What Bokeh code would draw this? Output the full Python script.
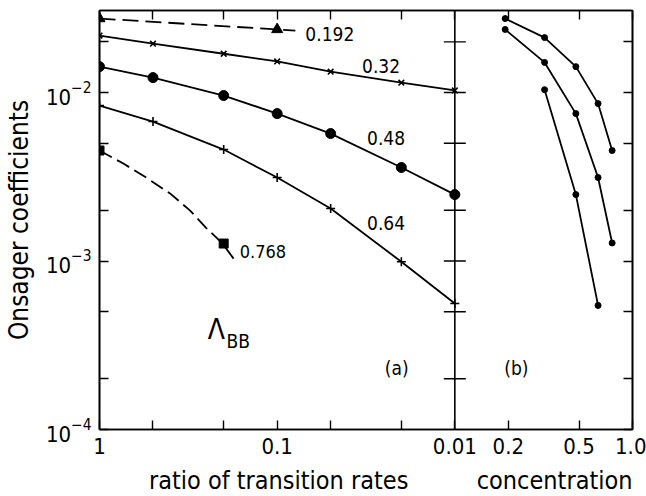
import math
from bokeh.plotting import figure
from bokeh.layouts import column
from bokeh.models import (Range1d, LogScale, FixedTicker, LogAxis, Span, Label,
                          LogTickFormatter)
from bokeh.embed import file_html
from bokeh.resources import INLINE
from bokeh.core.properties import value

# ---------------- data ----------------
# panel (a): Onsager coefficient vs ratio of transition rates
ratio = [1, 0.5, 0.2, 0.1, 0.05, 0.02, 0.01]
lam_032 = [0.0218, 0.0195, 0.0170, 0.0153, 0.0133, 0.01145, 0.0103]
lam_048 = [0.01425, 0.01227, 0.0096, 0.0075, 0.00571, 0.00359, 0.00248]
lam_064 = [0.00837, 0.00673, 0.00459, 0.00313, 0.00205, 0.00099, 0.00056]
ratio_0192 = [1, 0.1]
lam_0192 = [0.0275, 0.0237]
trace_0192_r = [1, 0.1, 0.079]
trace_0192_v = [0.0275, 0.0237, 0.0233]
ratio_0768 = [1, 0.2]
lam_0768 = [0.00453, 0.00127]
trace_0768_r = [1, 0.734, 0.546, 0.401, 0.310, 0.252, 0.203, 0.172]
trace_0768_v = [0.00453, 0.00379, 0.00313, 0.00252, 0.00200, 0.00158, 0.00127, 0.00100]

# panel (b): Onsager coefficient vs concentration
conc = [0.192, 0.32, 0.48, 0.64, 0.768]
b_ratio_1 = [0.0275, 0.0212, 0.01425, 0.0086, 0.00453]
b_ratio_01 = [0.0237, 0.0151, 0.0075, 0.00313, 0.00128]
conc_3 = [0.32, 0.48, 0.64]
b_ratio_001 = [0.0104, 0.00248, 0.000545]

series_labels = ["0.192", "0.32", "0.48", "0.64", "0.768"]

# ticks
a_tick_major = [1, 0.1, 0.01]
a_tick_labels = ["1", "0.1", "0.01"]
a_tick_minor = [0.5, 0.2, 0.05, 0.02]
b_tick_major = [0.2, 0.5, 1.0]
b_tick_labels = ["0.2", "0.5", "1.0"]
y_tick_major = [1e-4, 1e-3, 1e-2]
y_tick_minor = [2e-4, 5e-4, 2e-3, 5e-3, 2e-2]

# ---------------- ranges ----------------
A_START, A_END = 1.0, 0.001      # main (ratio) axis, reversed
C_START, C_END = 0.001, 1.0      # concentration axis sharing the frame
Y_START, Y_END = 1e-4, 0.0307

def conc_to_main(c):
    return A_START * C_START / c

FONT = "DejaVu Sans Condensed"
BLACK = "black"

x_range = Range1d(A_START, A_END)
conc_range = Range1d(C_START, C_END)

p = figure(width=646, height=466, x_axis_type="log", y_axis_type="log",
           x_range=x_range, y_range=Range1d(Y_START, Y_END),
           output_backend="svg", toolbar_location=None,
           min_border_left=96, min_border_right=14, min_border_top=10,
           min_border_bottom=37)
p.extra_x_ranges = {"conc": conc_range}
p.extra_x_scales = {"conc": LogScale()}
p.background_fill_color = "white"
p.border_fill_color = "white"
p.xgrid.grid_line_color = None
p.ygrid.grid_line_color = None
p.outline_line_color = BLACK
p.outline_line_width = 1.6

x_major = a_tick_major + [conc_to_main(c) for c in b_tick_major]
x_labels = a_tick_labels + b_tick_labels


def style_axis(ax):
    ax.axis_line_color = BLACK
    ax.axis_line_width = 1.6
    ax.major_tick_in = 9
    ax.major_tick_out = 0
    ax.minor_tick_in = 9
    ax.minor_tick_out = 0
    ax.major_tick_line_color = BLACK
    ax.minor_tick_line_color = BLACK
    ax.major_tick_line_width = 1.4
    ax.minor_tick_line_width = 1.4
    ax.major_label_text_font = FONT
    ax.major_label_text_color = BLACK
    ax.major_label_text_font_size = "22px"
    ax.axis_label_text_font = FONT
    ax.axis_label_text_font_style = "normal"
    ax.axis_label_text_color = BLACK


xb = p.xaxis[0]
xb.ticker = FixedTicker(ticks=x_major, minor_ticks=a_tick_minor)
xb.major_label_overrides = dict(zip(x_major, x_labels))
xb.major_label_standoff = 8
style_axis(xb)

yl = p.yaxis[0]
yl.ticker = FixedTicker(ticks=y_tick_major, minor_ticks=y_tick_minor)
yl.formatter = LogTickFormatter()
yl.major_label_standoff = 8
style_axis(yl)
yl.axis_label = "Onsager coefficients"
yl.axis_label_text_font_size = "26px"
yl.axis_label_standoff = 9

xt = LogAxis(ticker=FixedTicker(ticks=x_major, minor_ticks=a_tick_minor))
style_axis(xt)
xt.major_label_overrides = {t: "" for t in x_major}
xt.major_label_standoff = 0
p.add_layout(xt, "above")

yr = LogAxis(ticker=FixedTicker(ticks=y_tick_major, minor_ticks=y_tick_minor))
style_axis(yr)
yr.major_label_overrides = {t: "" for t in y_tick_major}
yr.major_label_standoff = 0
p.add_layout(yr, "right")

# divider between the panels, with ticks on both sides
divider = ratio[-1]
p.add_layout(Span(location=divider, dimension="height", line_color=BLACK,
                  line_width=1.6))
div_ticks = y_tick_minor + [1e-3, 1e-2]
p.scatter(x=[divider] * len(div_ticks), y=div_ticks, marker="dash", size=22,
          line_color=BLACK, line_width=1.4)

LW = 1.8
# ---- panel (a) ----
p.line(trace_0192_r, trace_0192_v, line_color=BLACK, line_width=LW,
       line_dash="16 7")
p.scatter(ratio_0192, lam_0192, marker="triangle", size=11, color=BLACK)

p.line(ratio, lam_032, line_color=BLACK, line_width=LW)
p.scatter(ratio, lam_032, marker="x", size=8, line_color=BLACK, line_width=1.6)

p.line(ratio, lam_048, line_color=BLACK, line_width=LW)
p.scatter(ratio, lam_048, marker="circle", size=10, color=BLACK)

p.line(ratio, lam_064, line_color=BLACK, line_width=LW)
p.scatter(ratio, lam_064, marker="cross", size=9, line_color=BLACK,
          line_width=1.6)

p.line(trace_0768_r, trace_0768_v, line_color=BLACK, line_width=LW,
       line_dash="14 6")
p.scatter(ratio_0768, lam_0768, marker="square", size=9, color=BLACK)

# ---- panel (b) ----
for xs, ys in [(conc, b_ratio_1), (conc, b_ratio_01), (conc_3, b_ratio_001)]:
    p.line(xs, ys, x_range_name="conc", line_color=BLACK, line_width=LW)
    p.scatter(xs, ys, x_range_name="conc", marker="circle", size=6,
              color=BLACK)

# ---- annotations ----
def lab(fig, x, y, text, size="19px", align="left", baseline="middle",
        xr="default"):
    fig.add_layout(Label(x=x, y=y, text=text, text_font=FONT,
                         text_font_size=size, text_align=align,
                         text_baseline=baseline, text_color=BLACK,
                         x_range_name=xr))

lab(p, 0.0694, 0.0224, series_labels[0])
lab(p, 0.0333, 0.01445, series_labels[1])
lab(p, 0.0312, 0.00541, series_labels[2])
lab(p, 0.0312, 0.00169, series_labels[3])
lab(p, 0.1625, 0.001138, series_labels[4], size="18px")

lab(p, 0.2455, 3.9e-4, "Λ", size="28px")
lab(p, 0.193, 3.35e-4, "BB", size="19px")
lab(p, 0.0248, 2.33e-4, "(a)", size="19px")
lab(p, 0.00527, 2.33e-4, "(b)", size="19px")

# ---- strip under the plot carrying the two x-axis titles ----
q = figure(width=646, height=30, x_axis_type="log", x_range=x_range,
           y_range=Range1d(0, 1), x_axis_location=None,
           y_axis_location=None, output_backend="svg",
           toolbar_location=None, min_border_left=96, min_border_right=14,
           min_border_top=0, min_border_bottom=0)
q.extra_x_ranges = {"conc": conc_range}
q.extra_x_scales = {"conc": LogScale()}
q.outline_line_color = None
q.xgrid.grid_line_color = None
q.ygrid.grid_line_color = None
q.background_fill_color = "white"
q.border_fill_color = "white"

lab(q, 0.0981, 0.55, "ratio of transition rates", size="25px",
    align="center")
lab(q, 1.0, 0.55, "concentration", size="25px", align="right", xr="conc")

layout = column(p, q, spacing=0)
open("out.html", "w").write(file_html(layout, INLINE))
